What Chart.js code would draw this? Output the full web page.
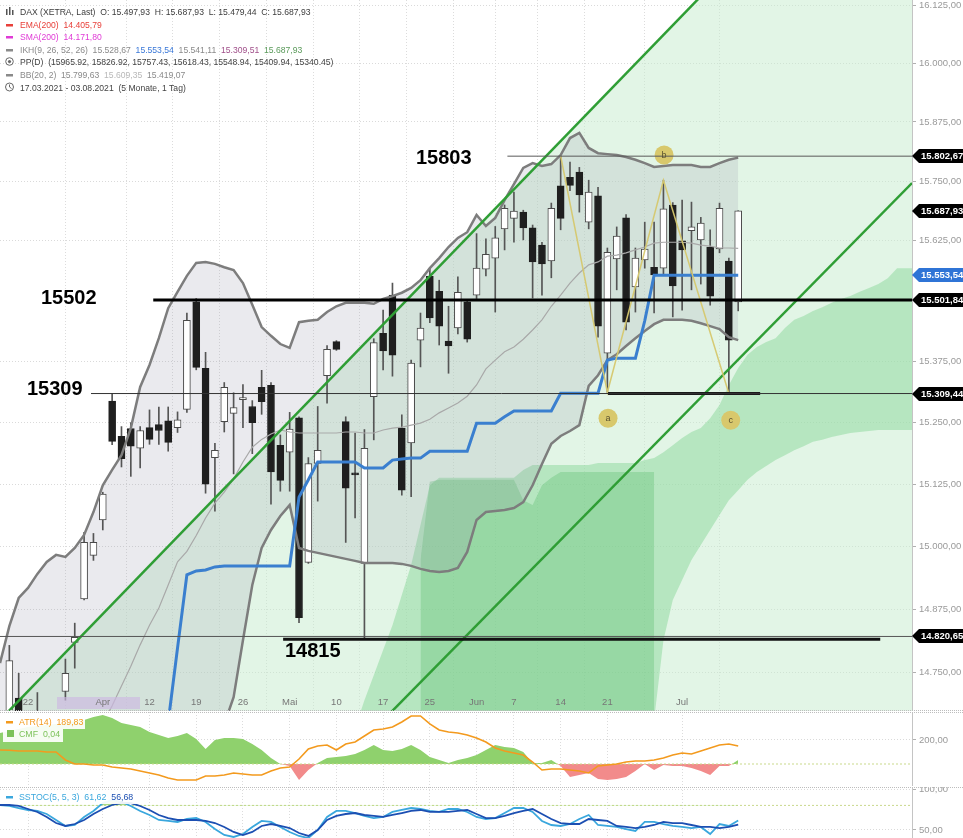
<!DOCTYPE html>
<html>
<head>
<meta charset="utf-8">
<title>DAX (XETRA) – Tageschart</title>
<script src="https://cdn.jsdelivr.net/npm/chart.js@4.4.1/dist/chart.umd.min.js"></script>
<style>
  html, body { margin: 0; padding: 0; background: #fff; }
  #wrap { position: relative; width: 963px; height: 838px; overflow: hidden; }
  .pane { position: absolute; left: 0; width: 963px; }
  #p1 { top: 0; height: 711px; }
  #p2 { top: 712px; height: 74px; }
  #p3 { top: 787px; height: 51px; }
  canvas { display: block; }
</style>
</head>
<body>
<div id="wrap">
  <div class="pane" id="p1"><canvas id="c1" width="963" height="711"></canvas></div>
  <div class="pane" id="p2"><canvas id="c2" width="963" height="74"></canvas></div>
  <div class="pane" id="p3"><canvas id="c3" width="963" height="51"></canvas></div>
</div>
<script>
// ---------------- DAX daily candles, 17.03.2021 – 09.07.2021 (trading-day index 0..79) ----------------
const open = [
  14560,14600,14699,14625,14650,14660,14600,14712,14809,14895,
  14982,15053,15294,15222,15238,15198,15240,15246,15254,15240,
  15277,15498,15361,15179,15252,15269,15297,15283,15322,15326,
  15204,15190,15260,14968,15167,15346,15416,15252,15148,14966,
  15303,15433,15512,15239,15209,15419,15551,15520,15417,15444,
  15498,15512,15566,15589,15650,15672,15685,15652,15616,15583,
  15740,15758,15769,15664,15719,15392,15587,15673,15529,15585,
  15570,15568,15700,15625,15646,15627,15612,15608,15583,15497.93];
const high = [
  14650,14803,14748,14670,14710,14672,14640,14776,14847,15028,
  15026,15109,15310,15242,15250,15242,15276,15282,15282,15272,
  15475,15505,15394,15208,15332,15311,15328,15295,15357,15332,
  15225,15271,15262,15179,15283,15408,15418,15262,15229,15236,
  15422,15481,15537,15266,15378,15475,15568,15543,15489,15550,
  15500,15640,15629,15655,15700,15727,15689,15658,15622,15704,
  15803,15790,15779,15752,15737,15610,15654,15680,15610,15664,
  15664,15752,15705,15710,15706,15674,15648,15704,15589,15687.93];
const low = [
  14520,14590,14600,14570,14600,14560,14450,14695,14758,14893,
  14972,15033,15205,15160,15141,15158,15206,15206,15192,15230,
  15271,15358,15107,15071,15231,15146,15240,15187,15267,15085,
  15111,15111,14848,14966,15091,15290,15398,15008,15057,14816,
  15215,15358,15345,15103,15100,15364,15455,15409,15351,15432,
  15415,15505,15552,15477,15606,15622,15627,15506,15512,15548,
  15648,15730,15685,15650,15425,15312,15523,15440,15477,15568,
  15475,15554,15467,15481,15523,15535,15491,15600,15309.44,15479.44];
const close = [
  14600,14773,14630,14655,14662,14610,14620,14748,14819,15008,
  15008,15105,15212,15177,15202,15234,15216,15234,15210,15256,
  15460,15363,15125,15194,15322,15281,15301,15250,15293,15150,
  15133,15237,14858,15167,15194,15400,15400,15117,15144,15198,
  15414,15397,15388,15113,15372,15444,15465,15448,15407,15518,
  15421,15568,15597,15631,15693,15687,15652,15581,15577,15693,
  15672,15741,15721,15727,15448,15601,15635,15456,15589,15608,
  15554,15692,15531,15606,15654,15662,15510,15693,15419,15687.93];

// Bollinger Bands (20, 2)
const bbUpper = [
  14768,14841,14897,14917,14945,14969,14983,14979,14997,15023,
  15069,15123,15154,15184,15239,15323,15368,15423,15485,15519,
  15552,15579,15581,15577,15570,15564,15537,15492,15446,15428,
  15411,15403,15456,15459,15461,15477,15489,15496,15496,15496,
  15494,15504,15510,15517,15527,15543,15568,15589,15612,15631,
  15643,15679,15656,15673,15710,15744,15778,15788,15782,15786,
  15805,15841,15852,15820,15809,15807,15805,15801,15795,15788,
  15780,15782,15784,15784,15784,15780,15780,15788,15795,15799.63];
const bbMiddle = [
  14300,14340,14380,14410,14440,14470,14500,14530,14560,14590,
  14620,14650,14684,14723,14762,14804,14843,14877,14923,14969,
  14990,15022,15057,15087,15109,15136,15170,15200,15216,15227,
  15235,15231,15229,15229,15229,15229,15229,15231,15231,15229,
  15229,15235,15239,15241,15245,15249,15257,15270,15280,15290,
  15304,15327,15360,15378,15395,15405,15421,15440,15461,15489,
  15512,15537,15558,15575,15581,15593,15595,15600,15606,15612,
  15620,15622,15622,15622,15620,15616,15614,15610,15610,15609.35];
const bbLower = [
  13832,13839,13863,13903,13935,13971,14017,14081,14123,14157,
  14171,14177,14214,14262,14285,14285,14318,14331,14361,14419,
  14428,14465,14533,14597,14648,14701,14813,14923,14997,15033,
  15061,15083,14997,14991,14987,14983,14979,14975,14971,14967,
  14967,14967,14967,14965,14961,14955,14951,14949,14951,14957,
  14989,15053,15069,15071,15073,15077,15089,15123,15166,15207,
  15223,15233,15245,15325,15347,15378,15390,15407,15423,15438,
  15452,15461,15461,15461,15459,15454,15448,15442,15425,15419.07];

// Ichimoku: Kijun-sen (26)
const kijun = [
  14560,14560,14560,14560,14560,14560,14560,14560,14560,14560,
  14560,14560,14560,14560,14560,14560,14560,14560,14652,14798,
  14943,14951,14953,14959,14961,14961,14961,14961,14961,14961,
  14961,14961,15099,15134,15170,15170,15170,15170,15170,15158,
  15158,15158,15174,15176,15178,15178,15192,15192,15192,15192,
  15192,15249,15249,15249,15262,15274,15274,15274,15274,15274,
  15310,15310,15310,15310,15310,15378,15382,15382,15382,15459,
  15553.54,15553.54,15553.54,15553.54,15553.54,15553.54,15553.54,15553.54,15553.54,15553.54];

// Ichimoku cloud (Senkou spans, shifted forward), starting at index 38
const cloudStart = 38;
const spanA = [
  14640,14695,14744,14794,14843,14903,14963,15043,15123,15138,
  15138,15138,15138,15138,15138,15138,15138,15138,15154,15164,
  15164,15164,15164,15164,15164,15164,15168,15168,15168,15168,
  15168,15174,15178,15190,15204,15219,15231,15239,15259,15286,
  15327,15362,15389,15405,15415,15423,15444,15461,15469,15479,
  15487,15496,15504,15510,15519,15527,15535,15547,15568,15568,
  15568];
const spanB = [
  14500,14500,14500,14500,14500,14500,14500,14500,14500,14500,
  14500,14500,14500,14500,14500,14500,14500,14500,14500,14500,
  14500,14500,14500,14500,14500,14500,14500,14500,14500,14500,
  14500,14500,14656,14813,14893,14933,14973,15003,15033,15063,
  15093,15113,15134,15150,15162,15174,15184,15194,15202,15211,
  15215,15221,15225,15229,15231,15233,15235,15235,15235,15235,
  15235];
// denser part of the cloud, starting at index 45
const coreStart = 45;
const cloudCore = [
  14973,15130,15134,15134,15134,15134,15134,15134,15134,15134,
  15134,15093,15083,15123,15138,15150,15150,15150,15150,15150,
  15150,15150,15150,15150,15150,15150];

// Trend channel anchors [index, value]
const channelUpper = [[0, 14656], [97.6, 16621]];
const channelLower = [[38, 14600], [97.6, 15746]];

// ABC correction swing points [index, value]
const abcPoints = [[60, 15803], [65, 15312], [71, 15752], [78, 15309.44]];
const abcMarks = [[65.07, 15259, 'a'], [71.07, 15805, 'b'], [78.2, 15255, 'c']];

// Support / resistance levels
const levelValues = [15802.67, 15501.84, 15309.44, 14820.65];
const levelLabels = ['15803', '15502', '15309', '14815'];
const level14815 = 14815;

// Right-axis price ticks
const priceTicks = [16125, 16000, 15875, 15750, 15625, 15375, 15250, 15125, 15000, 14875, 14750];

// Week ticks on the time axis
const weekTicks  = [3, 11, 16, 21, 26, 31, 36, 41, 46, 51, 55, 60, 65, 73];
const weekLabels = ['22', 'Apr', '12', '19', '26', 'Mai', '10', '17', '25', 'Jun', '7', '14', '21', 'Jul'];

// Lower panels
const atr = [
  183.3,183,181.7,181.7,181.7,180,180,166.7,160,160,
  158.3,158.3,155,153.3,151.7,148.3,145,141.7,136.7,133.3,
  133.3,133.3,140,140,141.7,145,143.3,141.7,141.7,148.3,
  153.3,155,168.3,185,190,191.7,183.3,193.3,196.7,206.7,
  216.7,218.3,221.7,230,240,240,226.7,216.7,213.3,211.7,
  208.3,203.3,196.7,186.7,181.7,178.3,175,163.3,150,151.7,
  151.7,150,148.3,145,156.7,158.3,160,163.3,165,165,
  166.7,170,175,178.3,176.7,181.7,186.7,191.7,193.3,189.83];
const cmf = [
  0.31,0.33,0.35,0.37,0.38,0.39,0.40,0.41,0.43,0.44,
  0.47,0.49,0.46,0.41,0.39,0.37,0.32,0.29,0.26,0.28,
  0.31,0.25,0.15,0.24,0.26,0.26,0.25,0.20,0.14,0.06,
  0.0,-0.02,-0.16,-0.06,0.01,0.06,0.07,0.08,0.10,0.14,
  0.19,0.14,0.13,0.15,0.19,0.14,0.07,0.04,0.01,0.04,
  0.06,0.09,0.14,0.19,0.17,0.16,0.12,0.01,0.01,0.04,
  -0.02,-0.13,-0.11,-0.09,-0.15,-0.16,-0.15,-0.13,-0.07,0.0,
  -0.06,-0.01,-0.02,-0.02,-0.04,-0.07,-0.11,-0.02,-0.02,0.04];
const stochK = [
  80.5,79.3,76.8,74.4,73.2,69.5,62.2,54.9,56.1,65.9,
  73.2,82.9,86.6,84.1,79.3,73.2,68.3,62.2,61,59.8,
  63.4,64.6,59.8,51.2,43.9,41.5,45.1,53.7,61,59.8,
  53.7,47.6,42.7,40.2,50,65.9,73.2,73.2,70.7,67.1,
  64.6,65.9,72,74.4,76.8,75.6,73.2,72,75.6,75.6,
  72,65.9,63.4,64.6,70.7,76.8,76.8,72,61,56.1,
  54.9,57.3,63.4,68.3,56.1,54.9,53.7,51.2,48.8,59.8,
  59.8,57.3,54.9,53.7,52.4,53.7,45.1,57.3,54.9,61.62];
const stochD = [
  80.5,80.5,79.3,75.6,72,65.9,58.5,54.9,57.3,62.2,
  69.5,75.6,80.5,82.9,82.9,79.3,74.4,68.3,64.6,62.2,
  62.2,62.2,61,58.5,53.7,47.6,43.9,47.6,54.9,57.3,
  54.9,52.4,46.3,42.7,50,62.2,67.1,69.5,70.7,68.3,
  67.1,65.9,68.3,70.7,73.2,74.4,72,72,72,73.2,
  74.4,69.5,64.6,64.6,67.1,70.7,73.2,75.6,69.5,63.4,
  58.5,57.3,57.3,63.4,62.2,61,54.9,53.7,52.4,53.7,
  56.1,59.8,58.5,58.5,56.1,53.7,53.7,52.4,53.7,56.68];

// ---------------- helpers ----------------
const FONT = '"Liberation Sans", Arial, sans-serif';
Chart.defaults.font.family = FONT;
Chart.defaults.animation = false;
Chart.defaults.plugins.legend.display = false;
Chart.defaults.plugins.tooltip.enabled = false;

const X_MIN = 0, X_MAX = 97.6;
const last = a => a[a.length - 1];

function fmtDE(v, d = 2) {
  const s = Math.abs(v).toFixed(d);
  let [int, frac] = s.split('.');
  int = int.replace(/\B(?=(\d{3})+(?!\d))/g, '.');
  return (v < 0 ? '-' : '') + int + (frac ? ',' + frac : '');
}
const pts = (arr, start = 0) => arr.map((v, i) => ({ x: i + start, y: v }));
const pairs = arr => arr.map(p => ({ x: p[0], y: p[1] }));
function line(data, color, width, order, extra = {}) {
  return Object.assign({ type: 'line', data, borderColor: color, borderWidth: width,
    pointRadius: 0, pointHoverRadius: 0, fill: false, tension: 0, order }, extra);
}
// keep the plot area flush with the canvas edges (no label overhang padding)
const noPad = s => { s.paddingTop = 0; s.paddingBottom = 0; s.paddingLeft = 0; s.paddingRight = 0; };
function xScale() {
  return {
    type: 'linear', min: X_MIN, max: X_MAX, offset: false,
    afterBuildTicks: s => { s.ticks = weekTicks.map(v => ({ value: v })); },
    afterFit: s => { s.height = 0; noPad(s); },
    ticks: { display: false },
    grid: { color: '#dcdcdc', drawTicks: false, lineWidth: 1 },
    border: { display: false, dash: [1, 2] }
  };
}
function rightAxis(min, max, ticks, extra = {}) {
  return Object.assign({
    position: 'right', min, max,
    afterBuildTicks: s => { s.ticks = ticks.map(v => ({ value: v })); },
    afterFit: s => { s.width = 51; noPad(s); },
    ticks: { callback: v => fmtDE(v), color: '#9a9a9a', font: { size: 9.5 }, padding: 3, autoSkip: false },
    grid: { color: '#dadada', tickColor: '#b0b0b0', tickLength: 4, tickBorderDash: [] },
    border: { display: true, color: '#c4c4c4', dash: [1, 2] }
  }, extra);
}
const baseOptions = { responsive: false, devicePixelRatio: 1, layout: { padding: 0, autoPadding: false } };

// ---------------- main price panel ----------------
const ds = [];
const add = d => { ds.push(d); return ds.length - 1; };

// channel shading below the upper trend line
add(line(pairs(channelUpper), 'rgba(0,0,0,0)', 0, 100,
  { fill: 'start', backgroundColor: 'rgba(198,236,206,0.5)' }));

// Ichimoku cloud
const iSpanB = add(line(pts(spanB, cloudStart), 'rgba(0,0,0,0)', 0, 97));
add(line(pts(spanA, cloudStart), 'rgba(0,0,0,0)', 0, 96,
  { fill: { target: iSpanB }, backgroundColor: 'rgba(128,212,146,0.45)' }));
add(line(pts(cloudCore, coreStart), 'rgba(0,0,0,0)', 0, 95,
  { fill: 'start', backgroundColor: 'rgba(92,188,112,0.35)' }));

// Bollinger band shading
const iLower = add(line(pts(bbLower), 'rgba(0,0,0,0)', 0, 91));
add(line(pts(bbUpper), 'rgba(0,0,0,0)', 0, 90,
  { fill: { target: iLower }, backgroundColor: 'rgba(150,150,168,0.2)' }));

// candles: wicks and bodies as floating bars
add({ type: 'bar', order: 51, grouped: false, barThickness: 1,
  data: open.map((o, i) => ({ x: i, y: [low[i], high[i]] })),
  backgroundColor: '#555', borderWidth: 0 });
add({ type: 'bar', order: 50, grouped: false, barThickness: 7, borderSkipped: false,
  data: open.map((o, i) => ({ x: i, y: [o, close[i]] })),
  backgroundColor: open.map((o, i) => close[i] >= o ? '#ffffff' : '#1f1f1f'),
  borderColor: open.map((o, i) => close[i] >= o ? '#4a4a4a' : '#1f1f1f'),
  borderWidth: 1 });

// indicator lines
add(line(pts(bbUpper), '#7d7d7d', 2.5, 30));
add(line(pts(bbLower), '#7d7d7d', 2.5, 30));
add(line(pts(bbMiddle), '#a9a9a9', 1.2, 30));
add(line(pts(kijun), '#3a7fcf', 3, 29));
add(line(pairs(channelUpper), '#2f9e35', 2.5, 28));
add(line(pairs(channelLower), '#2f9e35', 2.5, 28));

// ABC swing
add(line(pairs(abcPoints), 'rgba(214,200,110,0.95)', 1.5, 20));
const iMarks = add(line(abcMarks.map(m => ({ x: m[0], y: m[1] })), 'rgba(0,0,0,0)', 0, 19,
  { showLine: false, pointRadius: 9.5, pointBackgroundColor: '#d8c86c', pointBorderWidth: 0 }));

// horizontal levels
add(line([{ x: 54.3, y: levelValues[0] }, { x: X_MAX, y: levelValues[0] }], '#5a5a5a', 1, 10));
add(line([{ x: 16.4, y: levelValues[1] }, { x: X_MAX, y: levelValues[1] }], '#000', 3, 10));
add(line([{ x: 9.74, y: levelValues[2] }, { x: X_MAX, y: levelValues[2] }], '#333', 1, 10));
add(line([{ x: 65.07, y: levelValues[2] }, { x: 81.35, y: levelValues[2] }], '#1a1a1a', 3, 10));
add(line([{ x: 0, y: levelValues[3] }, { x: X_MAX, y: levelValues[3] }], '#555', 1, 10));
add(line([{ x: 30.3, y: level14815 }, { x: 94.2, y: level14815 }], '#111', 3, 10));

const mainDecor = {
  id: 'mainDecor',
  afterDraw(chart) {
    const { ctx, scales: { x, y } } = chart;
    ctx.save();

    // time axis labels inside the plot
    ctx.fillStyle = 'rgba(204,184,226,0.65)';
    ctx.fillRect(57, 697, 83, 12);
    ctx.font = '9.5px ' + FONT;
    ctx.fillStyle = '#777';
    ctx.textAlign = 'center';
    ctx.textBaseline = 'alphabetic';
    weekTicks.forEach((t, i) => ctx.fillText(weekLabels[i], x.getPixelForValue(t), 705));

    // big level captions
    ctx.font = 'bold 20px ' + FONT;
    ctx.fillStyle = '#000';
    ctx.textAlign = 'left';
    ctx.fillText(levelLabels[0], 416, y.getPixelForValue(levelValues[0]) + 8);
    ctx.fillText(levelLabels[1], 41, y.getPixelForValue(levelValues[1]) + 4);
    ctx.fillText(levelLabels[2], 27, y.getPixelForValue(levelValues[2]) + 1);
    ctx.fillText(levelLabels[3], 285, y.getPixelForValue(level14815) + 18);

    // a / b / c letters
    const meta = chart.getDatasetMeta(iMarks);
    ctx.font = '9px ' + FONT;
    ctx.fillStyle = '#5a5230';
    ctx.textAlign = 'center';
    ctx.textBaseline = 'middle';
    meta.data.forEach((p, i) => ctx.fillText(abcMarks[i][2], p.x, p.y + 0.5));

    // right-axis value tags
    const tag = (v, bg) => {
      const py = Math.round(y.getPixelForValue(v));
      const x0 = chart.chartArea.right;
      ctx.fillStyle = bg;
      ctx.beginPath();
      ctx.moveTo(x0, py); ctx.lineTo(x0 + 7, py - 7); ctx.lineTo(963, py - 7);
      ctx.lineTo(963, py + 7); ctx.lineTo(x0 + 7, py + 7); ctx.closePath(); ctx.fill();
      ctx.fillStyle = '#fff';
      ctx.font = 'bold 9.5px ' + FONT;
      ctx.textAlign = 'left';
      ctx.textBaseline = 'middle';
      ctx.fillText(fmtDE(v), x0 + 9, py + 0.5);
    };
    tag(levelValues[0], '#000');
    tag(last(close), '#000');
    tag(last(kijun), '#2f74d6');
    tag(levelValues[1], '#000');
    tag(levelValues[2], '#000');
    tag(levelValues[3], '#000');

    // legend block
    ctx.textAlign = 'left';
    ctx.textBaseline = 'alphabetic';
    ctx.font = '8.6px ' + FONT;
    const row = (yy, parts) => {
      let xx = 20;
      for (const [t, c] of parts) { ctx.fillStyle = c; ctx.fillText(t, xx, yy); xx += ctx.measureText(t).width; }
    };
    const dash = (yy, c) => { ctx.fillStyle = c; ctx.fillRect(6, yy - 4, 7, 2.5); };
    ctx.fillStyle = '#555';
    ctx.fillRect(6, 9, 1.5, 6); ctx.fillRect(9, 7, 1.5, 8); ctx.fillRect(12, 10, 1.5, 5);
    dash(28, '#e8403a'); dash(40, '#e03ad6'); dash(53, '#8a8a8a'); dash(78, '#8a8a8a');
    ctx.strokeStyle = '#666'; ctx.lineWidth = 1;
    ctx.beginPath(); ctx.arc(9.5, 61.5, 3.8, 0, Math.PI * 2); ctx.stroke();
    ctx.fillStyle = '#666'; ctx.beginPath(); ctx.arc(9.5, 61.5, 1.6, 0, Math.PI * 2); ctx.fill();
    ctx.beginPath(); ctx.arc(9.5, 87, 4, 0, Math.PI * 2); ctx.stroke();
    ctx.beginPath(); ctx.moveTo(9.5, 84.5); ctx.lineTo(9.5, 87); ctx.lineTo(11.5, 88.5); ctx.stroke();

    row(15, [['DAX (XETRA, Last)  O: ' + fmtDE(last(open)) + '  H: ' + fmtDE(last(high)) +
      '  L: ' + fmtDE(last(low)) + '  C: ' + fmtDE(last(close)), '#3c3c3c']]);
    row(28, [['EMA(200)  14.405,79', '#e8403a']]);
    row(40, [['SMA(200)  14.171,80', '#e03ad6']]);
    row(53, [['IKH(9, 26, 52, 26)  15.528,67  ', '#8a8a8a'], [fmtDE(last(kijun)) + '  ', '#3a78d8'],
      ['15.541,11  ', '#8a8a8a'], ['15.309,51  ', '#a0508a'], ['15.687,93', '#5a9a5a']]);
    row(65, [['PP(D)  (15965.92, 15826.92, 15757.43, 15618.43, 15548.94, 15409.94, 15340.45)', '#444']]);
    row(78, [['BB(20, 2)  ' + fmtDE(last(bbUpper)) + '  ', '#8a8a8a'], [fmtDE(last(bbMiddle)) + '  ', '#b8b8b8'],
      [fmtDE(last(bbLower)), '#8a8a8a']]);
    row(91, [['17.03.2021 - 03.08.2021  (5 Monate, 1 Tag)', '#444']]);

    // panel separator
    ctx.strokeStyle = '#bdbdbd'; ctx.setLineDash([1, 1]);
    ctx.beginPath(); ctx.moveTo(0, 710.5); ctx.lineTo(963, 710.5); ctx.stroke();
    ctx.restore();
  }
};

new Chart(document.getElementById('c1'), {
  type: 'line',
  data: { datasets: ds },
  options: Object.assign({}, baseOptions, {
    scales: {
      x: xScale(),
      y: rightAxis(14673.8, 16135.8, priceTicks, { type: 'logarithmic' })
    }
  }),
  plugins: [mainDecor]
});

// ---------------- ATR / CMF panel ----------------
const sepTop = {
  id: 'sepTop',
  afterDraw(chart) {
    const { ctx } = chart;
    ctx.save();
    ctx.strokeStyle = '#bdbdbd'; ctx.setLineDash([1, 1]); ctx.lineWidth = 1;
    ctx.beginPath(); ctx.moveTo(0, 0.5); ctx.lineTo(963, 0.5); ctx.stroke();
    ctx.restore();
  }
};
const legendBox = (ctx, x, y, w, h) => { ctx.fillStyle = 'rgba(255,255,255,0.92)'; ctx.fillRect(x, y, w, h); };

new Chart(document.getElementById('c2'), {
  type: 'line',
  data: { datasets: [
    line(pts(cmf), 'rgba(0,0,0,0)', 0, 10, { yAxisID: 'yc',
      fill: { target: { value: 0 }, above: '#8fd16d', below: '#f28b8b' } }),
    line([{ x: X_MIN, y: 0 }, { x: X_MAX, y: 0 }], '#c9d98c', 1, 5, { yAxisID: 'yc', borderDash: [2, 2] }),
    line(pts(atr), '#f39a1e', 1.6, 1, { yAxisID: 'y' })
  ] },
  options: Object.assign({}, baseOptions, {
    scales: {
      x: xScale(),
      y: rightAxis(123.3, 246.67, [200]),
      yc: { display: false, min: -0.22, max: 0.52 }
    }
  }),
  plugins: [sepTop, {
    id: 'atrLegend',
    afterDraw(chart) {
      const { ctx } = chart;
      ctx.save();
      legendBox(ctx, 3, 3, 82, 14);
      legendBox(ctx, 3, 17, 60, 13);
      ctx.font = '8.8px ' + FONT; ctx.textBaseline = 'alphabetic';
      ctx.fillStyle = '#f39a1e'; ctx.fillRect(6, 9, 7, 2.5);
      ctx.fillText('ATR(14)  ' + fmtDE(last(atr)), 19, 13);
      ctx.fillStyle = '#7cc25a'; ctx.fillRect(7, 18, 7, 7);
      ctx.fillText('CMF  ' + fmtDE(last(cmf)), 19, 25);
      ctx.restore();
    }
  }]
});

// ---------------- Slow stochastic panel ----------------
new Chart(document.getElementById('c3'), {
  type: 'line',
  data: { datasets: [
    line([{ x: X_MIN, y: 80 }, { x: X_MAX, y: 80 }], '#c9d98c', 1, 9, { borderDash: [2, 2] }),
    line(pts(stochK), '#3aa7dd', 1.8, 2,
      { fill: { target: { value: 80 }, above: 'rgba(140,206,96,0.75)', below: 'rgba(0,0,0,0)' } }),
    line(pts(stochD), '#1c4fb2', 1.8, 1)
  ] },
  options: Object.assign({}, baseOptions, {
    scales: {
      x: xScale(),
      y: rightAxis(40.24, 102.44, [100, 50])
    }
  }),
  plugins: [sepTop, {
    id: 'stochLegend',
    afterDraw(chart) {
      const { ctx } = chart;
      ctx.save();
      legendBox(ctx, 3, 3, 134, 14);
      ctx.font = '8.8px ' + FONT; ctx.textBaseline = 'alphabetic';
      ctx.fillStyle = '#3aa7dd'; ctx.fillRect(6, 9, 7, 2.5);
      let xx = 19;
      const seg = (t, c) => { ctx.fillStyle = c; ctx.fillText(t, xx, 13); xx += ctx.measureText(t).width; };
      seg('SSTOC(5, 5, 3)  ', '#3aa7dd');
      seg(fmtDE(last(stochK)) + '  ', '#3aa7dd');
      seg(fmtDE(last(stochD)), '#1c4fb2');
      ctx.restore();
    }
  }]
});
</script>
</body>
</html>
